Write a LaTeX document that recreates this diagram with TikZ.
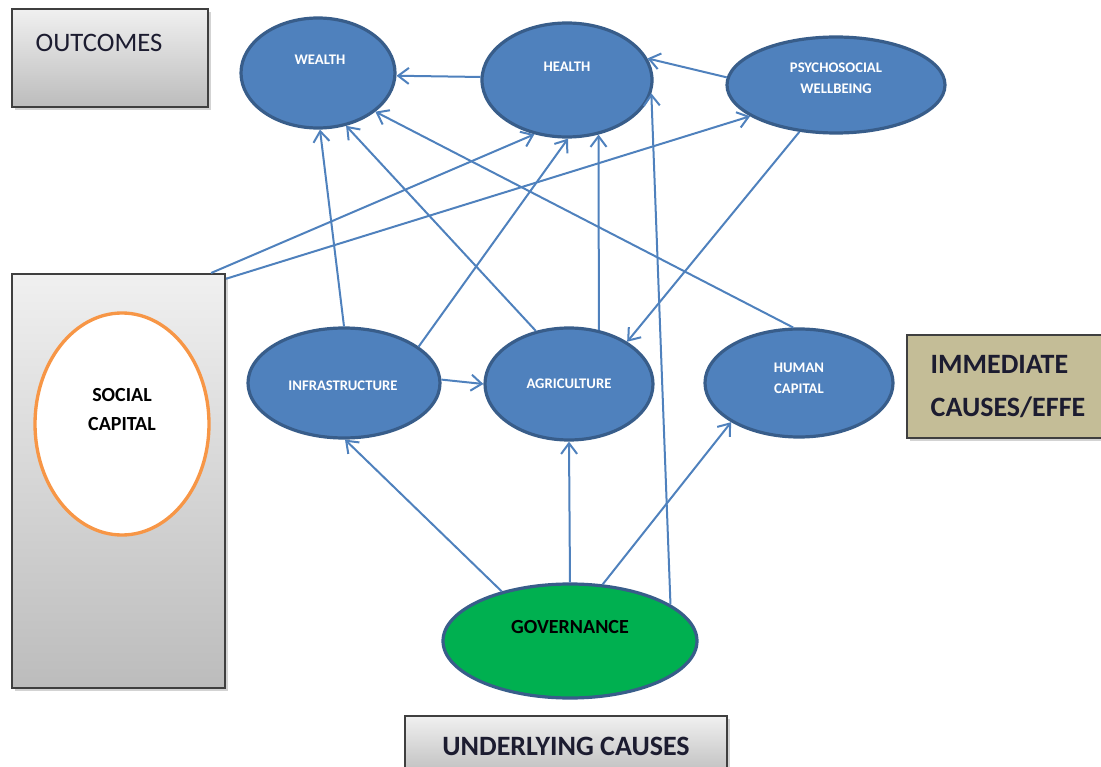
\documentclass[tikz,border=0pt]{standalone}
\usepackage{fontspec}
\setmainfont{Carlito}
\usetikzlibrary{shapes.geometric,arrows.meta,shadows}
\definecolor{bluefill}{HTML}{4F81BD}
\definecolor{blueline}{HTML}{385D8A}
\definecolor{bluearrow}{HTML}{4F81BD}
\definecolor{govgreen}{HTML}{00B050}
\definecolor{socorange}{HTML}{F79646}
\definecolor{tanfill}{HTML}{C4BD97}
\definecolor{boxtop}{HTML}{F0F0F0}
\definecolor{boxbottom}{HTML}{BCBCBC}
\definecolor{boxline}{HTML}{3F3F3F}
\definecolor{darktext}{HTML}{1C1C30}

\begin{document}
\begin{tikzpicture}[x=0.75pt,y=-0.75pt,
  bubble/.style={ellipse,draw=blueline,fill=bluefill,line width=2.4pt,inner sep=0pt},
  bubbletext/.style={text=white,font=\fontsize{11}{16}\selectfont\bfseries,align=center},
  link/.style={bluearrow,line width=1.5pt,-{Straight Barb[length=8pt,width=12pt]}},
  greybox/.style={rectangle,draw=boxline,line width=1.5pt,top color=boxtop,bottom color=boxbottom,inner sep=0pt,drop shadow={shadow xshift=2pt,shadow yshift=-2pt,opacity=0.35}},
  boxtext/.style={text=darktext,font=\fontsize{21}{32}\selectfont\bfseries}]

\useasboundingbox (0,0) rectangle (1101,767);
\clip (0,0) rectangle (1101,767);

%boxes
\node[greybox,minimum width=147pt,minimum height=73.5pt] (outbox) at (110,58) {};
\node[text=darktext,font=\fontsize{20}{24}\selectfont,anchor=west] (outtxt) at (31,43) {OUTCOMES};
\node[greybox,minimum width=159.75pt,minimum height=310.5pt] (socbox) at (118.5,481) {};
\node[greybox,fill=tanfill,top color=tanfill,bottom color=tanfill,minimum width=163.5pt,minimum height=77.25pt] (immbox) at (1016,386.5) {};
\node[boxtext,anchor=west,align=left] (immtxt) at (926,386.5) {IMMEDIATE\\CAUSES/EFFE};
\node[greybox,minimum width=241.5pt,minimum height=46.5pt] (undbox) at (566,747) {};
\node[boxtext] (undtxt) at (566,746) {UNDERLYING CAUSES};

%social capital
\node[ellipse,draw=socorange,fill=white,line width=2.5pt,minimum width=130.5pt,minimum height=166.5pt] (soccap) at (122,424) {};
\node[text=black,font=\fontsize{15}{22}\selectfont\bfseries,align=center] (soctxt) at (122,409.5) {SOCIAL\\CAPITAL};

%outcomes
\node[bubble,minimum width=115.5pt,minimum height=82.5pt] (wealth) at (318,73) {};
\node[bubbletext] (wealthtxt) at (320,60) {WEALTH};
\node[bubble,minimum width=127.5pt,minimum height=85.5pt] (health) at (567,80) {};
\node[bubbletext] (healthtxt) at (567,67) {HEALTH};
\node[bubble,minimum width=163.5pt,minimum height=72pt] (psych) at (836,85) {};
\node[bubbletext] (psychtxt) at (836,78.5) {PSYCHOSOCIAL\\WELLBEING};

%immediate causes
\node[bubble,minimum width=144pt,minimum height=82.5pt] (infra) at (344,383) {};
\node[bubbletext] (infratxt) at (343,386) {INFRASTRUCTURE};
\node[bubble,minimum width=126pt,minimum height=84pt] (agri) at (569,384) {};
\node[bubbletext] (agritxt) at (569,384) {AGRICULTURE};
\node[bubble,minimum width=141pt,minimum height=81pt] (human) at (799,383) {};
\node[bubbletext] (humantxt) at (799,378.5) {HUMAN\\CAPITAL};

%underlying cause
\node[bubble,fill=govgreen,minimum width=190.5pt,minimum height=85.5pt] (gov) at (570,641) {};
\node[text=black,font=\fontsize{15}{18}\selectfont\bfseries] (govtxt) at (570,627) {GOVERNANCE};

%arrows
\draw[link] (health.178) -- (wealth.-2);
\draw[link] (psych.176) -- (health.15);
\draw[link] (infra.90) -- (wealth.-88);
\draw[link] (agri.122) -- (wealth.-62);
\draw[link] (human.96) -- (wealth.-34);
\draw[link] (socbox.66) -- (health.-121);
\draw[link] (socbox.62) -- (psych.-160);
\draw[link] (infra.26) -- (health.-89);
\draw[link] (agri.61) -- (health.-60);
\draw[link] (psych.-128) -- (agri.36);
\draw[link] (gov.20) -- (health.-9);
\draw[link] (infra.2) -- (agri.180);
\draw[link] (gov.144) -- (infra.-89);
\draw[link] (gov.90) -- (agri.-90);
\draw[link] (gov.60) -- (human.-150);
\end{tikzpicture}
\end{document}
